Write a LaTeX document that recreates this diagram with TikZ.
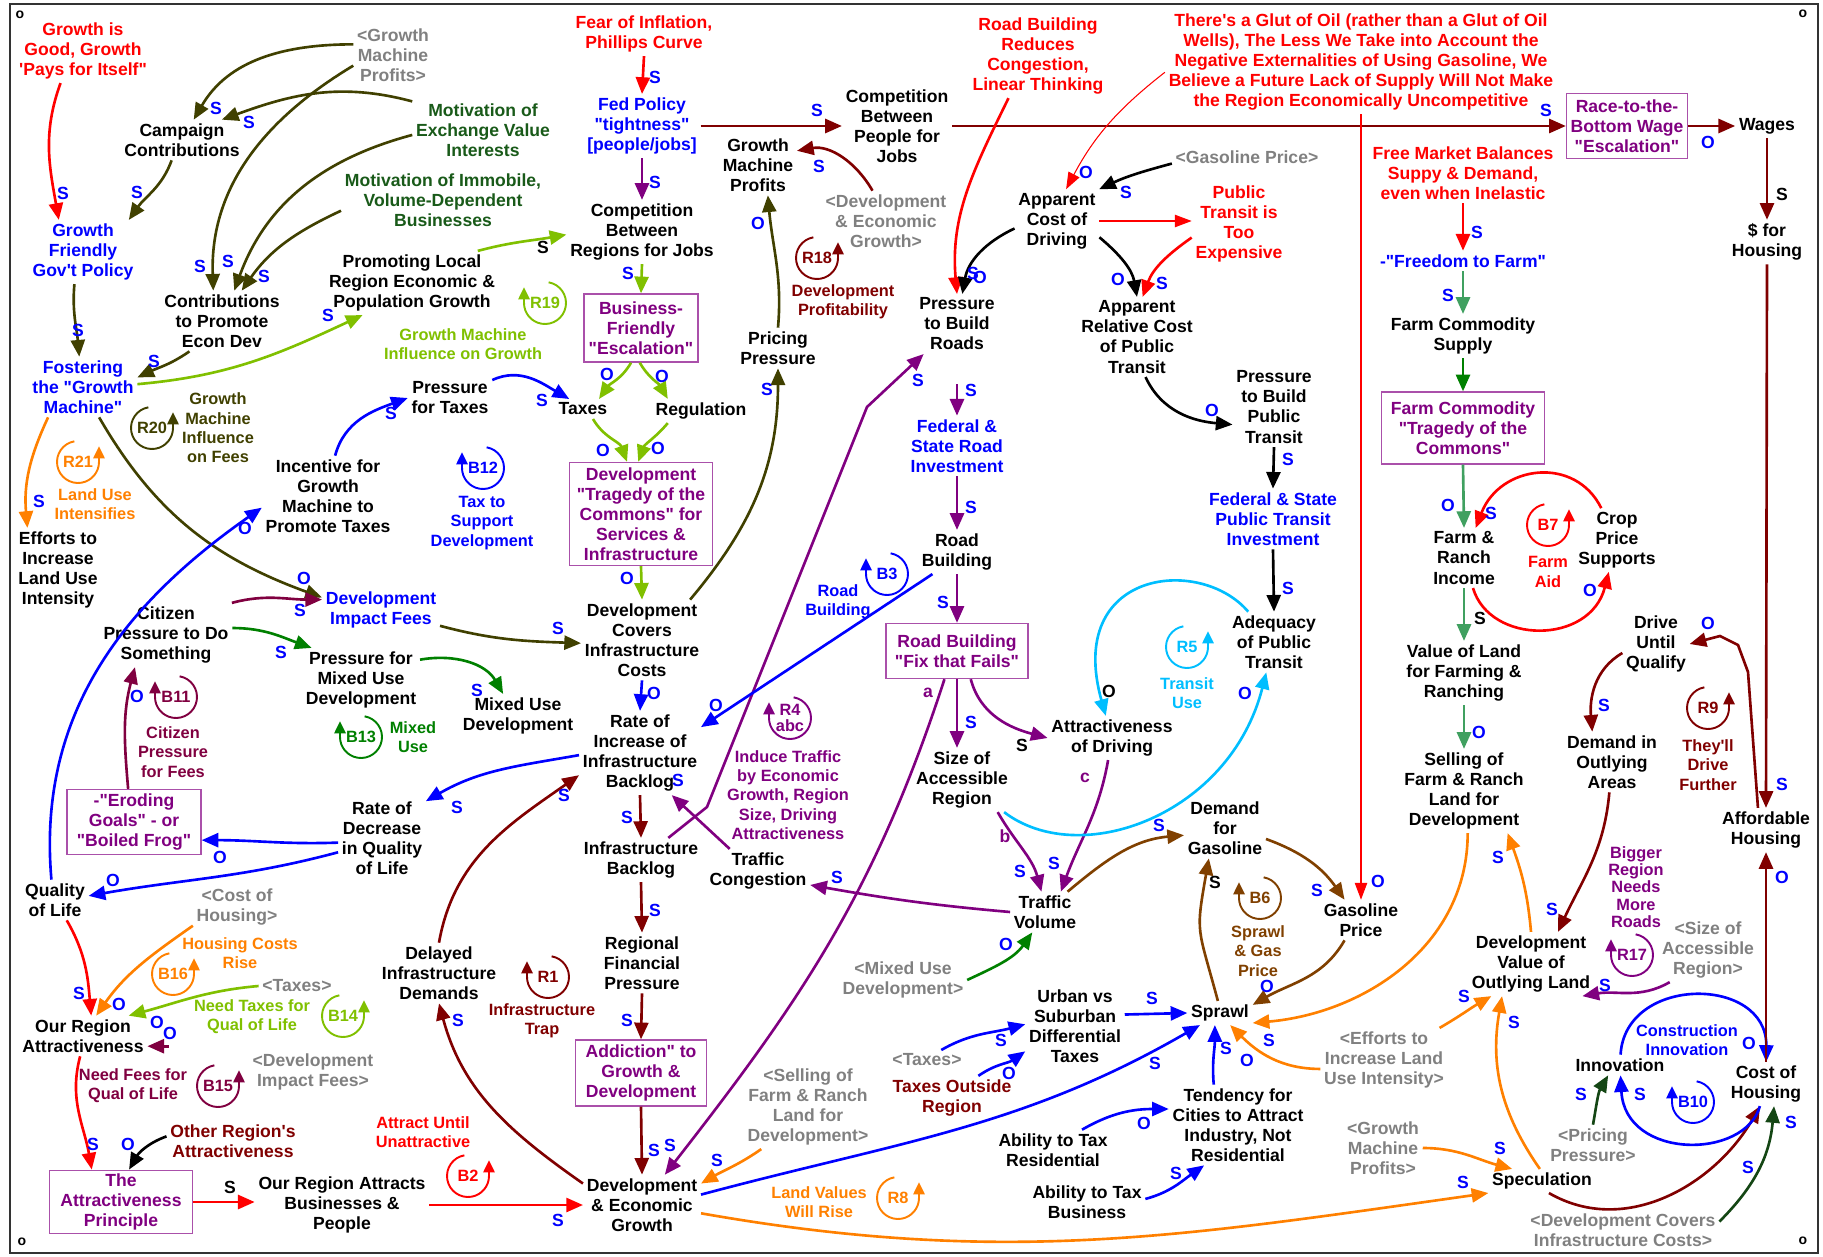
\documentclass[tikz,border=0pt]{standalone}
\usepackage{fontspec}
\setmainfont{Liberation Sans}[Ligatures=TeXOff]
\usetikzlibrary{arrows.meta,calc}

\definecolor{myred}{RGB}{255,0,0}
\definecolor{myblue}{RGB}{0,0,255}
\definecolor{shadow}{RGB}{128,128,128}
\definecolor{dkred}{RGB}{128,0,0}
\definecolor{olivedk}{RGB}{64,64,0}
\definecolor{motgreen}{RGB}{25,90,25}
\definecolor{ltgreen}{RGB}{128,192,0}
\definecolor{midgreen}{RGB}{0,128,0}
\definecolor{farmgreen}{RGB}{64,160,96}
\definecolor{deepgreen}{RGB}{20,70,20}
\definecolor{mypurple}{RGB}{128,0,128}
\definecolor{boxline}{RGB}{170,80,170}
\definecolor{maroonish}{RGB}{128,0,64}
\definecolor{myorange}{RGB}{255,128,0}
\definecolor{cyanblue}{RGB}{0,190,255}
\definecolor{mybrown}{RGB}{128,64,0}

\tikzset{
  var/.style={align=center, font=\bfseries\fontsize{10}{11.4}\selectfont, inner sep=2pt},
  shadowvar/.style={var, text=shadow},
  trapbox/.style={var, draw=boxline, line width=0.8pt, text=mypurple},
  looptag/.style={align=center, font=\bfseries\fontsize{9.3}{9}\selectfont, inner sep=0pt},
  loopnote/.style={align=center, font=\bfseries\fontsize{9.3}{11}\selectfont, inner sep=1pt},
  pol/.style={font=\bfseries\fontsize{10}{11}\selectfont, inner sep=0pt},
  lnk/.style={line width=1.5pt, -{Triangle[length=9.5pt,width=8pt]}},
  thinlnk/.style={line width=0.6pt, -{Triangle[length=9.5pt,width=7pt]}},
  loopline/.style={line width=1.1pt, -{Triangle[length=7pt,width=6.5pt]}},
}

\newcommand{\cycleloop}[5]{%
  \node[looptag, text=#3] (#1) at (#2) {#4};
  \ifnum#5>0
    \draw[#3, loopline] ($(#1)+(100:0.42cm)$) arc[start angle=100, end angle=360, radius=0.42cm] -- ++(0pt,9pt);
  \else
    \draw[#3, loopline] ($(#1)+(80:0.42cm)$) arc[start angle=80, end angle=-180, radius=0.42cm] -- ++(0pt,9pt);
  \fi}

\begin{document}
\begin{tikzpicture}[x=0.02cm, y=-0.02cm]
\useasboundingbox (0,0) rectangle (1823,1257);
\draw[line width=1.2pt, black!80] (10,4) rectangle (1818,1253);
\node[font=\bfseries\fontsize{8}{9}\selectfont] (cornerA) at (20,15) {o};
\node[font=\bfseries\fontsize{8}{9}\selectfont] (cornerB) at (1803,14) {o};
\node[font=\bfseries\fontsize{8}{9}\selectfont] (cornerC) at (22,1242) {o};
\node[font=\bfseries\fontsize{8}{9}\selectfont] (cornerD) at (1803,1241) {o};

\node[var, text=myred] (gpi) at (83,51) {Growth is\\Good, Growth\\'Pays for Itself"};
\node[shadowvar] (gmp1) at (393,55) {<Growth\\Machine\\Profits>};
\node[var] (camp) at (182,140) {Campaign\\Contributions};
\node[var, text=motgreen] (mevi) at (483,130) {Motivation of\\Exchange Value\\Interests};
\node[var, text=motgreen] (mivd) at (443,200) {Motivation of Immobile,\\Volume-Dependent\\Businesses};
\node[var, text=myblue] (gfgp) at (83,252) {Growth\\Friendly\\Gov't Policy};
\node[var] (ctp) at (222,321) {Contributions\\to Promote\\Econ Dev};
\node[var] (plr) at (412,283) {Promoting Local\\Region Economic \&\\Population Growth};
\node[var, text=myblue] (fgm) at (83,387) {Fostering\\the "Growth\\Machine"};
\node[var, text=myred] (fear) at (644,34) {Fear of Inflation,\\Phillips Curve};
\node[var, text=myblue] (fed) at (642,126) {Fed Policy\\"tightness"\\{[people/jobs]}};
\node[var] (cbrj) at (642,232) {Competition\\Between\\Regions for Jobs};
\node[var] (gmp) at (758,165) {Growth\\Machine\\Profits};
\node[var] (cbpj) at (897,126) {Competition\\Between\\People for\\Jobs};
\node[trapbox, minimum width=2.28cm, minimum height=1.36cm] (bfe) at (641,328) {Business-\\Friendly\\"Escalation"};
\node[var] (pp) at (778,348) {Pricing\\Pressure};
\node[shadowvar] (dgs) at (886,221) {<Development\\\& Economic\\Growth>};
\node[var] (taxes) at (583,409) {Taxes};
\node[var] (regu) at (701,411) {Regulation};
\node[var] (pft) at (450,398) {Pressure\\for Taxes};
\node[var, text=myred] (rbrc) at (1038,56) {Road Building\\Reduces\\Congestion,\\Linear Thinking};
\node[var, text=myred] (glut) at (1361,62) {There's a Glut of Oil (rather than a Glut of Oil\\Wells), The Less We Take into Account the\\Negative Externalities of Using Gasoline, We\\Believe a Future Lack of Supply Will Not Make\\the Region Economically Uncompetitive};
\node[shadowvar] (gps) at (1247,157) {<Gasoline Price>};
\node[var] (acd) at (1057,221) {Apparent\\Cost of\\Driving};
\node[var, text=myred] (ptte) at (1239,224) {Public\\Transit is\\Too\\Expensive};
\node[var] (ptbr) at (957,324) {Pressure\\to Build\\Roads};
\node[var] (arcpt) at (1137,337) {Apparent\\Relative Cost\\of Public\\Transit};
\node[var] (ptbpt) at (1274,407) {Pressure\\to Build\\Public\\Transit};
\node[trapbox, minimum width=2.42cm, minimum height=1.3cm] (rtbw) at (1627,126) {Race-to-the-\\Bottom Wage\\"Escalation"};
\node[var] (wages) at (1767,126) {Wages};
\node[var] (dfh) at (1767,242) {\$ for\\Housing};
\node[var, text=myred] (fmb) at (1463,173) {Free Market Balances\\Suppy \& Demand,\\even when Inelastic};
\node[var, text=myblue] (ftf) at (1463,261) {-"Freedom to Farm"};
\node[var] (fcs) at (1463,336) {Farm Commodity\\Supply};
\node[trapbox, minimum width=3.26cm, minimum height=1.44cm] (fctc) at (1463,428) {Farm Commodity\\"Tragedy of the\\Commons"};
\node[var] (fri) at (1464,558) {Farm \&\\Ranch\\Income};
\node[var] (cps) at (1617,540) {Crop\\Price\\Supports};
\node[var] (vlf) at (1464,673) {Value of Land\\for Farming \&\\Ranching};
\node[var] (sfrl) at (1464,791) {Selling of\\Farm \& Ranch\\Land for\\Development};
\node[var] (duq) at (1656,644) {Drive\\Until\\Qualify};
\node[var] (dioa) at (1612,762) {Demand in\\Outlying\\Areas};
\node[var] (afh) at (1766,830) {Affordable\\Housing};
\node[shadowvar] (sarS) at (1708,950) {<Size of\\Accessible\\Region>};
\node[var] (dvol) at (1531,964) {Development\\Value of\\Outlying Land};
\node[var] (coh) at (1766,1084) {Cost of\\Housing};
\node[var] (innov) at (1620,1065) {Innovation};
\node[shadowvar] (ppS) at (1593,1145) {<Pricing\\Pressure>};
\node[var] (spec) at (1542,1181) {Speculation};
\node[shadowvar] (dciS) at (1623,1230) {<Development Covers\\Infrastructure Costs>};
\node[shadowvar] (eiluS) at (1384,1060) {<Efforts to\\Increase Land\\Use Intensity>};
\node[shadowvar] (gmp2) at (1383,1148) {<Growth\\Machine\\Profits>};
\node[var] (tv) at (1045,912) {Traffic\\Volume};
\node[var] (dfg) at (1225,828) {Demand\\for\\Gasoline};
\node[var] (gprice) at (1361,920) {Gasoline\\Price};
\node[var] (sprawl) at (1220,1013) {Sprawl};
\node[shadowvar] (muS) at (903,980) {<Mixed Use\\Development>};
\node[var] (uvs) at (1075,1026) {Urban vs\\Suburban\\Differential\\Taxes};
\node[shadowvar] (taxS2) at (927,1060) {<Taxes>};
\node[var, text=dkred] (tor) at (952,1098) {Taxes Outside\\Region};
\node[var] (tcai) at (1238,1125) {Tendency for\\Cities to Attract\\Industry, Not\\Residential};
\node[var] (attr) at (1053,1150) {Ability to Tax\\Residential};
\node[var] (atb) at (1087,1202) {Ability to Tax\\Business};
\node[var, text=myblue] (fsri) at (957,446) {Federal \&\\State Road\\Investment};
\node[var] (rb) at (957,552) {Road\\Building};
\node[trapbox, minimum width=2.84cm, minimum height=1.1cm] (rbff) at (957,651) {Road Building\\"Fix that Fails"};
\node[var] (sar) at (962,780) {Size of\\Accessible\\Region};
\node[var] (aod) at (1112,738) {Attractiveness\\of Driving};
\node[var, text=myblue] (fsptI) at (1273,519) {Federal \& State\\Public Transit\\Investment};
\node[var] (apt) at (1274,642) {Adequacy\\of Public\\Transit};
\node[trapbox, minimum width=2.86cm, minimum height=2.06cm] (dtc) at (641,514) {Development\\"Tragedy of the\\Commons" for\\Services \&\\Infrastructure};
\node[var] (dcic) at (642,640) {Development\\Covers\\Infrastructure\\Costs};
\node[var] (mud) at (518,716) {Mixed Use\\Development};
\node[var] (rii) at (640,753) {Rate of\\Increase of\\Infrastructure\\Backlog};
\node[var] (did) at (439,973) {Delayed\\Infrastructure\\Demands};
\node[var] (ib) at (641,860) {Infrastructure\\Backlog};
\node[var] (rfp) at (642,963) {Regional\\Financial\\Pressure};
\node[trapbox, minimum width=2.62cm, minimum height=1.32cm] (atg) at (641,1073) {Addiction" to\\Growth \&\\Development};
\node[var] (deg) at (642,1205) {Development\\\& Economic\\Growth};
\node[var] (tc) at (758,871) {Traffic\\Congestion};
\node[var] (eluI) at (58,570) {Efforts to\\Increase\\Land Use\\Intensity};
\node[var, text=myblue] (dif) at (381,610) {Development\\Impact Fees};
\node[var] (cpds) at (166,635) {Citizen\\Pressure to Do\\Something};
\node[var] (pmud) at (361,680) {Pressure for\\Mixed Use\\Development};
\node[trapbox, minimum width=2.68cm, minimum height=1.3cm] (egbf) at (134,822) {-"Eroding\\Goals" - or\\"Boiled Frog"};
\node[var] (rdql) at (382,838) {Rate of\\Decrease\\in Quality\\of Life};
\node[var] (igm) at (328,496) {Incentive for\\Growth\\Machine to\\Promote Taxes};
\node[var] (qol) at (55,900) {Quality\\of Life};
\node[shadowvar] (cohS) at (237,907) {<Cost of\\Housing>};
\node[shadowvar] (taxS1) at (297,986) {<Taxes>};
\node[var] (ora) at (83,1036) {Our Region\\Attractiveness};
\node[shadowvar] (difS) at (313,1072) {<Development\\Impact Fees>};
\node[var, text=dkred] (ora2) at (233,1141) {Other Region's\\Attractiveness};
\node[trapbox, minimum width=2.86cm, minimum height=1.22cm] (tap) at (121,1202) {The\\Attractiveness\\Principle};
\node[var] (orab) at (342,1205) {Our Region Attracts\\Businesses \&\\People};
\node[shadowvar] (sflS) at (808,1107) {<Selling of\\Farm \& Ranch\\Land for\\Development>};

\cycleloop{R20}{152,428}{olivedk}{R20}{1}
\cycleloop{R19}{545,303}{ltgreen}{R19}{-1}
\cycleloop{R18}{817,258}{dkred}{R18}{1}
\cycleloop{R21}{78,462}{myorange}{R21}{1}
\cycleloop{B12}{483,468}{myblue}{B12}{-1}
\cycleloop{B13}{361,737}{midgreen}{B13}{-1}
\cycleloop{B11}{176,697}{maroonish}{B11}{-1}
\cycleloop{B3}{887,574}{myblue}{B3}{-1}
\cycleloop{R4}{790,718}{mypurple}{R4\\abc}{-1}
\cycleloop{R1}{548,977}{dkred}{R1}{-1}
\cycleloop{R5}{1187,647}{cyanblue}{R5}{1}
\cycleloop{B7}{1548,525}{myred}{B7}{1}
\cycleloop{R9}{1708,708}{dkred}{R9}{1}
\cycleloop{R17}{1632,955}{mypurple}{R17}{-1}
\cycleloop{B10}{1693,1102}{myblue}{B10}{-1}
\cycleloop{B6}{1260,898}{mybrown}{B6}{-1}
\cycleloop{B16}{173,974}{myorange}{B16}{1}
\cycleloop{B14}{343,1016}{ltgreen}{B14}{1}
\cycleloop{B15}{218,1086}{maroonish}{B15}{1}
\cycleloop{B2}{468,1176}{myred}{B2}{1}
\cycleloop{R8}{898,1198}{myorange}{R8}{1}

\node[loopnote, text=olivedk] (R20note) at (218,428) {Growth\\Machine\\Influence\\on Fees};
\node[loopnote, text=ltgreen] (R19note) at (463,344) {Growth Machine\\Influence on Growth};
\node[loopnote, text=dkred] (R18note) at (843,302) {Development\\Profitability};
\node[loopnote, text=myorange] (R21note) at (95,504) {Land Use\\Intensifies};
\node[loopnote, text=myblue] (B12note) at (482,523) {Tax to\\Support\\Development};
\node[loopnote, text=midgreen] (B13note) at (413,737) {Mixed\\Use};
\node[loopnote, text=maroonish] (B11note) at (173,752) {Citizen\\Pressure\\for Fees};
\node[loopnote, text=myblue] (B3note) at (838,602) {Road\\Building};
\node[loopnote, text=mypurple] (R4note) at (788,795) {Induce Traffic\\by Economic\\Growth, Region\\Size, Driving\\Attractiveness};
\node[loopnote, text=dkred] (R1note) at (542,1021) {Infrastructure\\Trap};
\node[loopnote, text=cyanblue] (R5note) at (1187,693) {Transit\\Use};
\node[loopnote, text=myred] (B7note) at (1548,572) {Farm\\Aid};
\node[loopnote, text=dkred] (R9note) at (1708,765) {They'll\\Drive\\Further};
\node[loopnote, text=mypurple, font=\bfseries\fontsize{9.3}{9.9}\selectfont] (R17note) at (1636,887) {Bigger\\Region\\Needs\\More\\Roads};
\node[loopnote, text=myblue] (B10note) at (1687,1040) {Construction\\Innovation};
\node[loopnote, text=mybrown] (B6note) at (1258,951) {Sprawl\\\& Gas\\Price};
\node[loopnote, text=myorange] (B16note) at (240,953) {Housing Costs\\Rise};
\node[loopnote, text=ltgreen] (B14note) at (252,1017) {Need Taxes for\\Qual of Life};
\node[loopnote, text=maroonish] (B15note) at (133,1086) {Need Fees for\\Qual of Life};
\node[loopnote, text=myred] (B2note) at (423,1132) {Attract Until\\Unattractive};
\node[loopnote, text=myorange] (R8note) at (819,1202) {Land Values\\Will Rise};

\draw[lnk, myred] (gpi.235) to[out=250,in=100] (gfgp.127);
\draw[lnk, olivedk] (camp.243) to[out=250,in=55] (gfgp.35);
\draw[lnk, olivedk] (gfgp.255) to[out=265,in=95] (fgm.97);
\draw[lnk, olivedk] (gmp1.165) to[out=180,in=60] (camp.60);
\draw[lnk, olivedk] (mevi.158) to[out=165,in=20] (camp.27);
\draw[lnk, olivedk] (gmp1.195) to[out=211,in=92] (ctp.106);
\draw[lnk, olivedk] (mevi.184) to[out=195,in=70] (ctp.68);
\draw[lnk, olivedk] (mivd.186) to[out=205,in=55] (ctp.57);
\draw[lnk, olivedk] (ctp.223) to[out=215,in=25] (fgm.10);
\draw[lnk, ltgreen] (fgm.3) to[out=5,in=205] (plr.213);
\draw[lnk, myorange] (fgm.221) to[out=245,in=95] (eluI.126);
\draw[lnk, olivedk] (fgm.298) to[out=300,in=160] (dif.168);

\draw[lnk, myred] (fear.south) -- (fed.north);
\draw[lnk, mypurple] (fed.south) -- (cbrj.north);
\draw[lnk, dkred] (fed.east) -- (cbpj.west);
\draw[lnk, dkred] (cbpj.east) -- (rtbw.west);
\draw[lnk, dkred] (rtbw.east) -- (wages.west);
\draw[lnk, dkred] (wages.south) -- (dfh.north);
\draw[lnk, dkred] (dfh.south) -- (afh.north);

\draw[lnk, ltgreen] (plr.26) to[out=15,in=190] (cbrj.182);
\draw[lnk, ltgreen] (cbrj.south) -- (bfe.north);
\draw[lnk, ltgreen] (bfe.254) to[out=240,in=55] (taxes.32);
\draw[lnk, ltgreen] (bfe.268) to[out=300,in=120] (regu.160);
\draw[lnk, ltgreen] (taxes.315) to[out=300,in=110] (dtc.105);
\draw[lnk, ltgreen] (regu.200) to[out=230,in=70] (dtc.93);
\draw[lnk, ltgreen] (dtc.south) -- (dcic.north);
\draw[lnk, olivedk] (dcic.40) to[out=50,in=270] (pp.south);
\draw[lnk, olivedk] (pp.north) to[out=85,in=275] (gmp.288);
\draw[lnk, dkred] (dgs.114) to[out=120,in=10] (gmp.20);
\draw[lnk, myblue] (pft.23) to[out=25,in=150] (taxes.144);
\draw[lnk, myblue] (igm.80) to[out=75,in=200] (pft.west);

\draw[lnk, myred] (rbrc.235) to[out=244,in=95] (ptbr.north);
\draw[thinlnk, myred] (glut.183) to[out=218,in=62] (acd.74);
\draw[lnk] (gps.185) to[out=195,in=25] (acd.37);
\draw[lnk] (acd.190) to[out=205,in=80] (ptbr.80);
\draw[thinlnk, myred] (acd.east) -- (acd.east -| ptte.west);
\draw[lnk, myred] (ptte.196) to[out=215,in=70] (arcpt.82);
\draw[lnk] (acd.339) to[out=320,in=100] (arcpt.north);
\draw[lnk] (arcpt.282) to[out=295,in=175] (ptbpt.203);

\draw[lnk, mypurple, shorten <=0.6cm] (ptbr.south) -- (fsri.north);
\draw[lnk, mypurple] (fsri.south) -- (rb.north);
\draw[lnk, mypurple] (rb.south) -- (rbff.north);
\draw[lnk, mypurple] (rbff.south) -- (sar.north -| rbff.south);
\draw[lnk, mypurple] (rbff.296) to[out=285,in=165] (aod.west);
\draw[lnk, mypurple] (rbff.246) to[out=252,in=52] (deg.53);
\draw[lnk, mypurple] (aod.260) to[out=260,in=70] (tv.52);
\draw[lnk, mypurple] (sar.318) to[out=300,in=105] (tv.100);
\draw[lnk, mypurple] (tv.180) to[out=175,in=350] (tc.345);
\draw[lnk, mypurple] (tc.142) -- (rii.307);
\draw[lnk, mypurple] (ib.39) -- (707,807) -- (867,407) -- (ptbr.222);
\draw[lnk, myblue] (rb.222) -- (rii.23);

\draw[lnk, olivedk] (dif.345) to[out=345,in=178] (dcic.183);
\draw[lnk, maroonish] (cpds.26) to[out=15,in=180] (dif.170);
\draw[lnk, midgreen] (cpds.6) to[out=0,in=160] (pmud.147);
\draw[lnk, midgreen] (pmud.19) to[out=10,in=120] (mud.124);
\draw[lnk, myblue] (dcic.south) -- (rii.north);
\draw[lnk, myblue] (rii.182) to[out=190,in=30] (rdql.40);
\draw[lnk, dkred] (rii.south) -- (ib.north);
\draw[lnk, dkred] (ib.south) -- (rfp.north);
\draw[lnk, dkred] (rfp.south) -- (atg.north);
\draw[lnk, dkred] (atg.south) -- (deg.north);
\draw[lnk, dkred] (did.north) to[out=80,in=215] (rii.200);
\draw[lnk, dkred] (deg.160) to[out=145,in=285] (did.south);
\draw[lnk, myblue] (rdql.186) to[out=182,in=0] (egbf.345);
\draw[lnk, myblue] (rdql.198) to[out=195,in=10] (qol.7);
\draw[lnk, maroonish] (egbf.100) to[out=95,in=255] (cpds.226);
\draw[lnk, myblue] (qol.100) to[out=95,in=215] (igm.190);
\draw[lnk, myred] (qol.300) to[out=300,in=95] (ora.68);
\draw[lnk, myorange] (cohS.203) to[out=215,in=55] (ora.57);
\draw[lnk, ltgreen] (taxS1.west) to[out=185,in=15] (ora.24);
\draw[lnk, maroonish, shorten <=1.6cm] (ora.351 -| difS.west) -- (ora.351);
\draw[lnk, myred] (ora.262) to[out=255,in=100] (tap.132);
\draw[lnk] (ora2.176) to[out=200,in=60] (tap.76);
\draw[lnk, myred] (tap.east) -- (tap.east -| orab.west);
\draw[lnk, myred] (orab.east) -- (orab.east -| deg.west);
\draw[lnk, myorange] (sflS.222) to[out=215,in=30] (deg.20);

\draw[lnk, myblue] (deg.10) to[out=15,in=210] (sprawl.211);
\draw[lnk, myorange] (deg.352) to[out=350,in=188] (spec.south west);
\draw[lnk, myorange] (gmp2.east) to[out=0,in=165] (spec.158);
\draw[lnk, myorange] (spec.100) to[out=125,in=260] (dvol.228);
\draw[lnk, myorange] (eiluS.30) to[out=30,in=210] (dvol.219);
\draw[lnk, myorange] (dvol.north) to[out=95,in=290] (sfrl.316);
\draw[lnk, myorange] (sfrl.275) to[out=270,in=5] (sprawl.343);
\draw[lnk, myorange] (eiluS.188) to[out=180,in=315] (sprawl.310);
\draw[lnk, dkred] (spec.300) to[out=330,in=240] (coh.255);
\draw[lnk, deepgreen] (dciS.5) to[out=45,in=265] (coh.290);
\draw[lnk, deepgreen] (ppS.north) to[out=80,in=240] (innov.221);
\draw[lnk, myblue] (innov) .. controls (1625,975) and (1767,975) .. (coh);
\draw[lnk, myblue] (coh) .. controls (1745,1160) and (1625,1160) .. (innov);
\draw[lnk, dkred] (coh.north) -- (afh.south);
\draw[lnk, dkred] (afh.110) -- (1748,672) -- (1738,645) -- (1720,636) -- (duq.east);
\draw[lnk, dkred] (duq.195) to[out=210,in=95] (dioa.123);
\draw[lnk, dkred] (dioa.265) to[out=265,in=65] (dvol.50);
\draw[lnk, mypurple] (sarS.220) to[out=210,in=10] (dvol.328);

\draw[lnk, myred] (fmb.south) -- (ftf.north);
\draw[lnk, farmgreen] (ftf.south) -- (fcs.north);
\draw[lnk, midgreen] (fcs.south) -- (fctc.north);
\draw[lnk, farmgreen] (fctc.south) -- (fri.north);
\draw[lnk, myred] (cps) .. controls (1575,455) and (1500,465) .. (fri);
\draw[lnk, myred] (fri) .. controls (1490,645) and (1590,645) .. (cps);
\draw[lnk, farmgreen] (fri.south) -- (vlf.north);
\draw[lnk, farmgreen] (vlf.south) -- (sfrl.north);
\draw[thinlnk, myred] (glut.south) -- (gprice.north);

\draw[lnk, mybrown] (tv.42) to[out=40,in=185] (dfg.190);
\draw[lnk, mybrown] (dfg.345) to[out=340,in=125] (gprice.129);
\draw[lnk, mybrown] (gprice.231) to[out=240,in=30] (sprawl.14);
\draw[lnk, mybrown] (sprawl.100) to[out=105,in=260,looseness=1.4] (dfg.242);
\draw[lnk, midgreen] (muS.0) to[out=25,in=235] (tv.238);
\draw[lnk, myblue] (taxS2.35) to[out=30,in=195] (uvs.178);
\draw[lnk, myblue] (tor.40) to[out=35,in=215] (uvs.207);
\draw[lnk, myblue] (uvs.13) -- (sprawl.west);
\draw[lnk, myblue] (tcai.121) to[out=95,in=270] (sprawl.247);
\draw[lnk, myblue] (attr.35) to[out=30,in=180] (tcai.167);
\draw[lnk, myblue] (atb.3) to[out=15,in=215] (tcai.230);
\draw[lnk, cyanblue] (apt) .. controls (1200,555) and (1065,570) .. (aod);
\draw[lnk, cyanblue] (sar) .. controls (1080,870) and (1230,815) .. (apt);
\draw[lnk] (ptbpt.south) -- (fsptI.north);
\draw[lnk] (fsptI.south) -- (apt.north);

\foreach \px/\py/\ltr/\col [count=\i] in {
  63/193/S/myblue, 137/192/S/myblue, 78/330/S/myblue, 216/108/S/myblue,
  249/122/S/myblue, 200/266/S/myblue, 228/261/S/myblue, 264/276/S/myblue,
  154/361/S/myblue, 328/315/S/myblue, 39/501/S/myblue, 304/578/O/myblue,
  655/77/S/myblue, 655/182/S/myblue, 817/110/S/myblue, 1546/110/S/myblue,
  1708/142/O/myblue, 1782/194/S/black, 1782/784/S/myblue, 543/247/S/black,
  628/273/S/myblue, 607/374/O/myblue, 662/376/O/myblue, 603/450/O/myblue,
  658/448/O/myblue, 627/578/O/myblue, 767/389/S/myblue, 758/223/O/myblue,
  819/166/S/myblue, 542/400/S/myblue, 391/413/S/myblue, 973/273/S/myblue,
  980/277/O/myblue, 1086/172/O/myblue, 1126/192/S/myblue, 1162/283/S/myblue,
  1118/279/O/myblue, 1212/410/O/myblue, 971/390/S/myblue, 971/507/S/myblue,
  943/602/S/myblue, 971/722/S/myblue, 1022/745/S/black, 670/1145/S/myblue,
  1054/863/S/myblue, 1020/871/S/myblue, 837/877/S/myblue, 678/780/S/myblue,
  918/380/S/myblue, 716/705/O/myblue, 558/628/S/myblue, 300/610/S/myblue,
  281/652/S/myblue, 477/690/S/myblue, 654/693/O/myblue, 457/807/S/myblue,
  627/817/S/myblue, 655/910/S/myblue, 627/1020/S/myblue, 654/1150/S/myblue,
  564/795/S/myblue, 458/1020/S/myblue, 220/857/O/myblue, 113/880/O/myblue,
  137/696/O/myblue, 245/528/O/myblue, 79/993/S/myblue, 119/1004/O/myblue,
  157/1022/O/myblue, 170/1033/O/myblue, 93/1144/S/myblue, 128/1144/O/myblue,
  230/1187/S/black, 558/1220/S/myblue, 717/1160/S/myblue, 1155/1063/S/myblue,
  1463/1182/S/myblue, 1500/1148/S/myblue, 1514/1022/S/myblue, 1464/996/S/myblue,
  1498/857/S/myblue, 1269/1040/S/myblue, 1247/1060/O/myblue, 1748/1167/S/myblue,
  1791/1122/S/myblue, 1581/1094/S/myblue, 1749/1043/O/myblue, 1640/1094/S/myblue,
  1782/877/O/myblue, 1708/623/O/myblue, 1604/705/S/myblue, 1552/909/S/myblue,
  1605/985/S/myblue, 1477/232/S/myblue, 1448/295/S/myblue, 1448/505/O/myblue,
  1491/513/S/myblue, 1590/590/O/myblue, 1480/618/S/black, 1479/732/O/myblue,
  1378/881/O/myblue, 1159/825/S/myblue, 1317/890/S/myblue, 1267/986/O/myblue,
  1215/882/S/black, 1006/944/O/myblue, 1001/1040/S/myblue, 1009/1073/O/myblue,
  1152/998/S/myblue, 1226/1048/S/myblue, 1144/1123/O/myblue, 1176/1173/S/myblue,
  1109/691/O/black, 1245/693/O/myblue, 1288/459/S/myblue, 1288/588/S/myblue,
  928/693/a/mypurple, 1005/836/b/mypurple, 1085/778/c/mypurple}
  \node[pol, text=\col] (pol\i) at (\px,\py) {\ltr};
\end{tikzpicture}
\end{document}
